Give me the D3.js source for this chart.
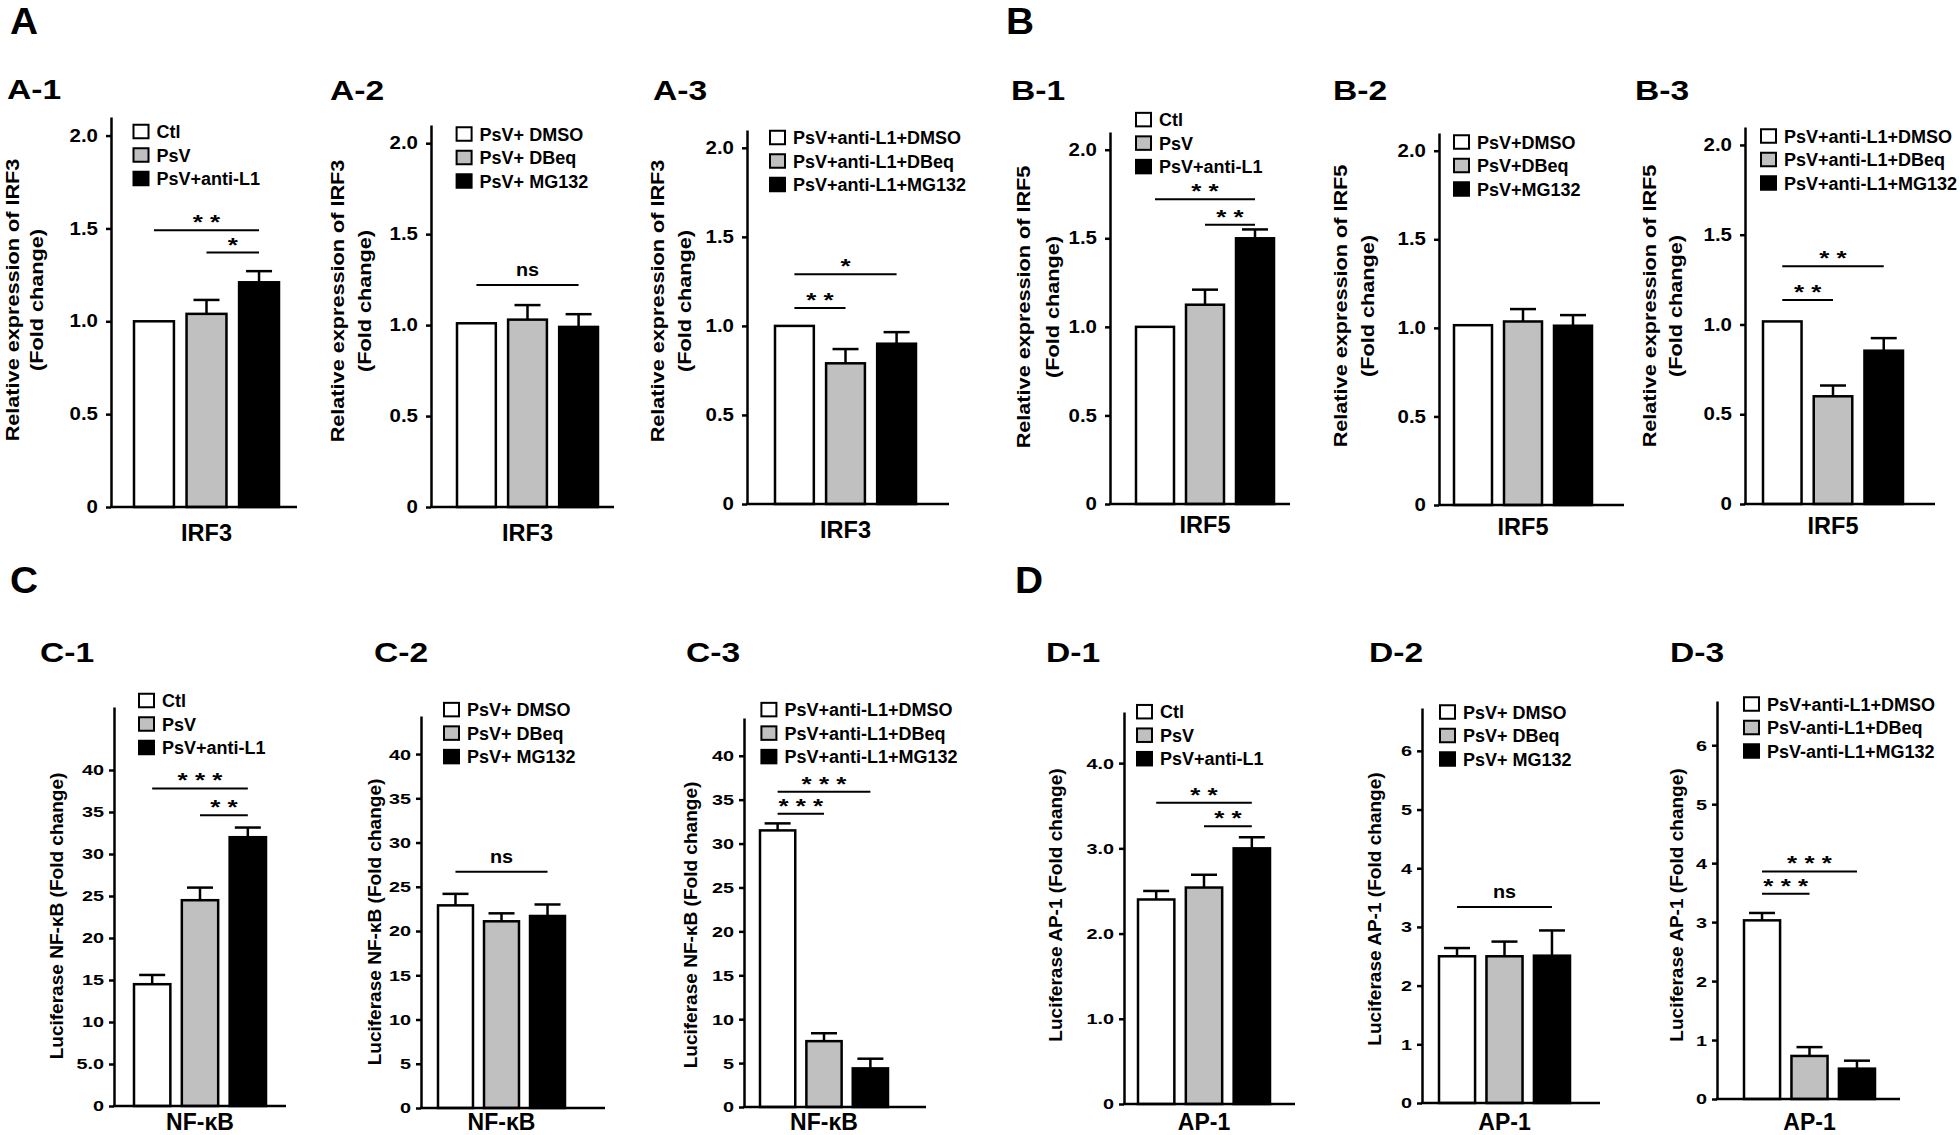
<!DOCTYPE html>
<html>
<head>
<meta charset="utf-8">
<script src="https://cdn.jsdelivr.net/npm/d3@7"></script>
<style>
  body { margin: 0; background: #fff; }
  svg text { font-family: "Liberation Sans", Arial, sans-serif; font-weight: bold; fill: #000; }
</style>
</head>
<body>
<svg id="fig" width="1960" height="1135"></svg>
<script>
// ---- legend / group names ----
const groupsCtl = ["Ctl", "PsV", "PsV+anti-L1"];
const groupsInhib = ["PsV+ DMSO", "PsV+ DBeq", "PsV+ MG132"];
const groupsInhibB2 = ["PsV+DMSO", "PsV+DBeq", "PsV+MG132"];
const groupsAnti = ["PsV+anti-L1+DMSO", "PsV+anti-L1+DBeq", "PsV+anti-L1+MG132"];
const groupsAntiD3 = ["PsV+anti-L1+DMSO", "PsV-anti-L1+DBeq", "PsV-anti-L1+MG132"];

// ---- means and (upper) errors ----
const meanA1 = [1.00, 1.04, 1.21], errA1 = [0, 0.075, 0.06];
const meanA2 = [1.01, 1.03, 0.99], errA2 = [0, 0.08, 0.07];
const meanA3 = [1.00, 0.79, 0.90], errA3 = [0, 0.08, 0.065];
const meanB1 = [1.00, 1.125, 1.50], errB1 = [0, 0.085, 0.05];
const meanB2 = [1.015, 1.036, 1.012], errB2 = [0, 0.07, 0.06];
const meanB3 = [1.017, 0.60, 0.854], errB3 = [0, 0.06, 0.07];
const meanC1 = [14.5, 24.5, 32.0], errC1 = [1.1, 1.5, 1.15];
const meanC2 = [22.9, 21.1, 21.7], errC2 = [1.3, 0.9, 1.3];
const meanC3 = [31.5, 7.5, 4.4], errC3 = [0.8, 0.9, 1.1];
const meanD1 = [2.40, 2.54, 3.00], errD1 = [0.10, 0.15, 0.13];
const meanD2 = [2.50, 2.50, 2.51], errD2 = [0.14, 0.25, 0.43];
const meanD3 = [3.03, 0.73, 0.515], errD3 = [0.125, 0.15, 0.135];

// ---- significance brackets: [from, to, level, label] ----
const sigA1 = [[0, 2, 1.49, "**"], [1, 2, 1.37, "*"]];
const sigA2 = [[0, 2, 1.22, "ns"]];
const sigA3 = [[0, 2, 1.29, "*"], [0, 1, 1.10, "**"]];
const sigB1 = [[0, 2, 1.72, "**"], [1, 2, 1.577, "**"]];
const sigB2 = [];
const sigB3 = [[0, 2, 1.325, "**"], [0, 1, 1.136, "**"]];
const sigC1 = [[0, 2, 37.8, "***"], [1, 2, 34.6, "**"]];
const sigC2 = [[0, 2, 26.7, "ns"]];
const sigC3 = [[0, 2, 35.9, "***"], [0, 1, 33.4, "***"]];
const sigD1 = [[0, 2, 3.535, "**"], [1, 2, 3.26, "**"]];
const sigD2 = [[0, 2, 3.34, "ns"]];
const sigD3 = [[0, 2, 3.86, "***"], [0, 1, 3.48, "***"]];

// ---- tick labels ----
const ticksIRF = ["0", "0.5", "1.0", "1.5", "2.0"];
const ticksC1 = ["0", "5.0", "10", "15", "20", "25", "30", "35", "40"];
const ticksNFkB = ["0", "5", "10", "15", "20", "25", "30", "35", "40"];
const ticksD1 = ["0", "1.0", "2.0", "3.0", "4.0"];
const ticksAP1 = ["0", "1", "2", "3", "4", "5", "6"];

// ---- axis titles ----
const yTitleIRF3 = ["Relative expression of IRF3", "(Fold change)"];
const yTitleIRF5 = ["Relative expression of IRF5", "(Fold change)"];
const yTitleNFkB = ["Luciferase  NF-\u03baB  (Fold change)"];
const yTitleAP1 = ["Luciferase AP-1 (Fold change)"];

const fills = ["#ffffff", "#c0c0c0", "#000000"];

// layout of each panel (pixel positions)
const panels = [
  { id: "A-1", tx: 7, ty: 99, ax: 111, ax2: 297, top: 117, zero: 507, max: 2.1, b0: 134, b1: 279, lx: 133.5, ly: 131.5, ylx: [12, 36], yly: 300, xly: 541,
    x: "IRF3", mean: meanA1, err: errA1, sig: sigA1, ticks: ticksIRF, groups: groupsCtl, yTitle: yTitleIRF3 },
  { id: "A-2", tx: 330, ty: 100, ax: 431, ax2: 614, top: 125, zero: 507, max: 2.1, b0: 457, b1: 598, lx: 456.6, ly: 134, ylx: [337, 364], yly: 301, xly: 541,
    x: "IRF3", mean: meanA2, err: errA2, sig: sigA2, ticks: ticksIRF, groups: groupsInhib, yTitle: yTitleIRF3 },
  { id: "A-3", tx: 653, ty: 100, ax: 747, ax2: 949, top: 130, zero: 504, max: 2.1, b0: 775, b1: 916, lx: 770, ly: 137.5, ylx: [657, 684], yly: 301, xly: 538,
    x: "IRF3", mean: meanA3, err: errA3, sig: sigA3, ticks: ticksIRF, groups: groupsAnti, yTitle: yTitleIRF3 },
  { id: "B-1", tx: 1011, ty: 100, ax: 1110, ax2: 1290, top: 132, zero: 504, max: 2.1, b0: 1136, b1: 1274, lx: 1136, ly: 119.6, ylx: [1023, 1052], yly: 307, xly: 533,
    x: "IRF5", mean: meanB1, err: errB1, sig: sigB1, ticks: ticksIRF, groups: groupsCtl, yTitle: yTitleIRF5 },
  { id: "B-2", tx: 1333, ty: 100, ax: 1439, ax2: 1624, top: 133, zero: 505, max: 2.1, b0: 1454, b1: 1592, lx: 1454, ly: 142, ylx: [1340, 1367], yly: 306, xly: 535,
    x: "IRF5", mean: meanB2, err: errB2, sig: sigB2, ticks: ticksIRF, groups: groupsInhibB2, yTitle: yTitleIRF5 },
  { id: "B-3", tx: 1635, ty: 100, ax: 1745, ax2: 1935, top: 127, zero: 504, max: 2.1, b0: 1763, b1: 1903, lx: 1761, ly: 136, ylx: [1649, 1675], yly: 306, xly: 534,
    x: "IRF5", mean: meanB3, err: errB3, sig: sigB3, ticks: ticksIRF, groups: groupsAnti, yTitle: yTitleIRF5 },
  { id: "C-1", tx: 40, ty: 662, ax: 114, ax2: 286, top: 707, zero: 1106, max: 47.5, b0: 134, b1: 266, lx: 139, ly: 700.5, ylx: [57], yly: 916, xly: 1130,
    x: "NF-\u03baB", mean: meanC1, err: errC1, sig: sigC1, ticks: ticksC1, groups: groupsCtl, yTitle: yTitleNFkB },
  { id: "C-2", tx: 374, ty: 662, ax: 421, ax2: 605, top: 716, zero: 1108, max: 44.3, b0: 438, b1: 565, lx: 444, ly: 709.6, ylx: [375], yly: 922, xly: 1130,
    x: "NF-\u03baB", mean: meanC2, err: errC2, sig: sigC2, ticks: ticksNFkB, groups: groupsInhib, yTitle: yTitleNFkB },
  { id: "C-3", tx: 686, ty: 662, ax: 744, ax2: 926, top: 718, zero: 1107, max: 44.3, b0: 760, b1: 888, lx: 761.4, ly: 709.6, ylx: [691], yly: 925, xly: 1130,
    x: "NF-\u03baB", mean: meanC3, err: errC3, sig: sigC3, ticks: ticksNFkB, groups: groupsAnti, yTitle: yTitleNFkB },
  { id: "D-1", tx: 1046, ty: 662, ax: 1124, ax2: 1295, top: 712, zero: 1104, max: 4.6, b0: 1138, b1: 1270, lx: 1137, ly: 711.7, ylx: [1056], yly: 905, xly: 1130,
    x: "AP-1", mean: meanD1, err: errD1, sig: sigD1, ticks: ticksD1, groups: groupsCtl, yTitle: yTitleAP1 },
  { id: "D-2", tx: 1369, ty: 662, ax: 1422, ax2: 1600, top: 708, zero: 1103, max: 6.73, b0: 1439, b1: 1570, lx: 1440, ly: 712, ylx: [1375], yly: 909, xly: 1130,
    x: "AP-1", mean: meanD2, err: errD2, sig: sigD2, ticks: ticksAP1, groups: groupsInhib, yTitle: yTitleAP1 },
  { id: "D-3", tx: 1670, ty: 662, ax: 1717, ax2: 1900, top: 701, zero: 1099, max: 6.75, b0: 1744, b1: 1875, lx: 1744, ly: 704, ylx: [1677], yly: 905, xly: 1130,
    x: "AP-1", mean: meanD3, err: errD3, sig: sigD3, ticks: ticksAP1, groups: groupsAntiD3, yTitle: yTitleAP1 }
];

const bigLetters = [["A", 10, 34], ["B", 1006, 34], ["C", 10, 593], ["D", 1015, 593]];

const svg = d3.select("#fig");

// big section letters
svg.selectAll("text.big").data(bigLetters).join("text")
  .attr("class", "big")
  .attr("font-size", 37)
  .attr("transform", d => `translate(${d[1]},${d[2]}) scale(1.05,1)`)
  .text(d => d[0]);

panels.forEach(p => drawPanel(p));

function drawPanel(p) {
  const g = svg.append("g").attr("class", "panel");
  const twoLines = p.yTitle.length > 1;   // top row (IRF) panels
  const y = d3.scaleLinear().domain([0, p.max]).range([p.zero, p.top]);
  const x = d3.scaleBand().domain(d3.range(p.mean.length)).range([p.b0, p.b1]).paddingInner(0.24).paddingOuter(0);
  const bw = x.bandwidth();

  // panel title
  g.append("text").attr("font-size", 28)
    .attr("transform", `translate(${p.tx},${p.ty}) scale(1.2,1)`)
    .text(p.id);

  // y axis
  const yAxis = d3.axisLeft(y)
    .tickValues(p.ticks.map(Number))
    .tickFormat((d, i) => p.ticks[i])
    .tickSize(5).tickSizeOuter(0);
  const ag = g.append("g").attr("transform", `translate(${p.ax},0)`).call(yAxis)
    .attr("font-size", twoLines ? 17.5 : 15.5);
  ag.select(".domain").attr("stroke-width", 2.5);
  ag.selectAll(".tick line").attr("stroke-width", 2.5);
  ag.selectAll(".tick text").attr("x", 0)
    .attr("transform", twoLines ? "translate(-13,0) scale(1.17,1)" : "translate(-10,0) scale(1.28,1)");

  // bars
  g.selectAll("rect.bar").data(p.mean).join("rect")
    .attr("class", "bar")
    .attr("x", (d, i) => x(i))
    .attr("y", d => y(d))
    .attr("width", bw)
    .attr("height", d => y(0) - y(d))
    .attr("fill", (d, i) => fills[i])
    .attr("stroke", "#000").attr("stroke-width", 2.5);

  // error bars (upper only)
  p.mean.forEach((m, i) => {
    const e = p.err[i];
    if (!e) return;
    const cx = x(i) + bw / 2;
    g.append("line").attr("x1", cx).attr("x2", cx).attr("y1", y(m)).attr("y2", y(m + e))
      .attr("stroke", "#000").attr("stroke-width", 2.5);
    g.append("line").attr("x1", cx - 13).attr("x2", cx + 13).attr("y1", y(m + e)).attr("y2", y(m + e))
      .attr("stroke", "#000").attr("stroke-width", 2.5);
  });

  // x axis baseline
  g.append("line").attr("x1", p.ax - 1).attr("x2", p.ax2).attr("y1", y(0)).attr("y2", y(0))
    .attr("stroke", "#000").attr("stroke-width", 2.5);

  // significance brackets
  p.sig.forEach(s => {
    const x1 = x(s[0]) + bw / 2, x2 = x(s[1]) + bw / 2, ly = y(s[2]);
    g.append("line").attr("x1", x1).attr("x2", x2).attr("y1", ly).attr("y2", ly)
      .attr("stroke", "#000").attr("stroke-width", 2);
    const isNs = s[3] === "ns";
    g.append("text")
      .attr("text-anchor", "middle")
      .attr("font-size", isNs ? 18 : 20)
      .attr("transform", `translate(${(x1 + x2) / 2},${ly - (isNs ? 9 : 1)}) scale(${isNs ? 1.1 : 1.3},1)`)
      .text(isNs ? "ns" : s[3].split("").join(" "));
  });

  // legend
  const lg = g.append("g").attr("transform", `translate(${p.lx},${p.ly})`);
  p.groups.forEach((name, i) => {
    lg.append("rect").attr("x", 0).attr("y", i * 23.5 - 6.75).attr("width", 15).attr("height", 13.5)
      .attr("fill", fills[i]).attr("stroke", "#000").attr("stroke-width", 2);
    lg.append("text").attr("x", 23).attr("y", i * 23.5 + 6.5).attr("font-size", 18).text(name);
  });

  // y-axis title (rotated)
  p.yTitle.forEach((t, i) => {
    g.append("text")
      .attr("text-anchor", "middle")
      .attr("dy", "0.35em")
      .attr("font-size", twoLines ? 19 : 18.5)
      .attr("transform", `translate(${p.ylx[i]},${p.yly}) rotate(-90) scale(${twoLines ? 1.14 : 1.03},1)`)
      .text(t);
  });

  // x label
  g.append("text").attr("text-anchor", "middle").attr("font-size", twoLines ? 23.5 : 23)
    .attr("x", (p.b0 + p.b1) / 2).attr("y", p.xly)
    .text(p.x);
}
</script>
</body>
</html>
